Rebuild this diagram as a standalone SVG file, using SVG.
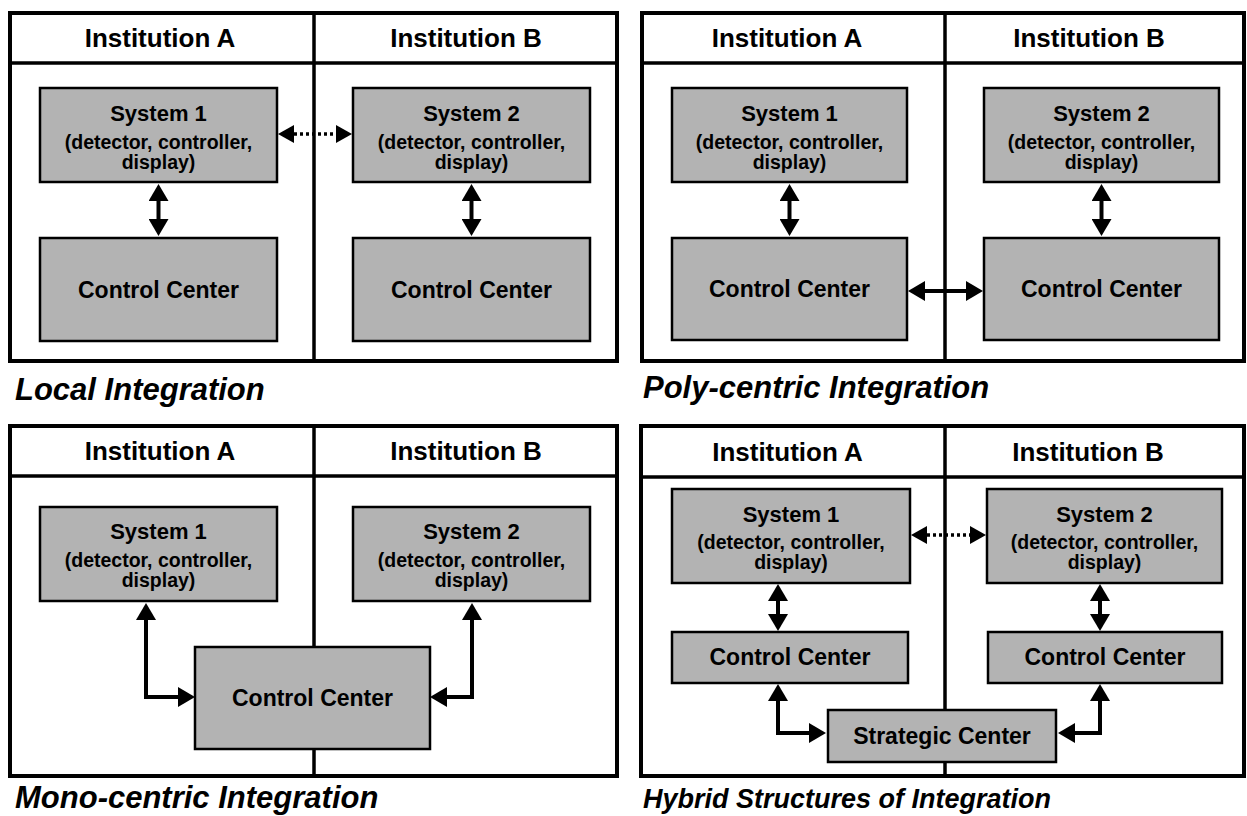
<svg xmlns="http://www.w3.org/2000/svg" width="1247" height="816" viewBox="0 0 1247 816">
<defs>
<marker id="ah" viewBox="0 0 17 20" refX="0" refY="10" markerWidth="17" markerHeight="20" markerUnits="userSpaceOnUse" orient="auto-start-reverse">
<path d="M0,0 L17,10 L0,20 z" fill="#000"/>
</marker>
<marker id="ahs" viewBox="0 0 16 18" refX="0" refY="9" markerWidth="16" markerHeight="18" markerUnits="userSpaceOnUse" orient="auto-start-reverse">
<path d="M0,0 L16,9 L0,18 z" fill="#000"/>
</marker>
</defs>
<style>
.panel{fill:#fff;stroke:#000;stroke-width:4}
.div{stroke:#000;stroke-width:3.5;fill:none}
.box{fill:#b3b3b3;stroke:#000;stroke-width:2.5}
text{font-family:"Liberation Sans",Arial,Helvetica,sans-serif;font-weight:bold;fill:#000;text-anchor:middle}
.hdr{font-size:26px}
.sys{font-size:22px}
.sub{font-size:19.5px}
.cc{font-size:23px}
.title{font-size:31px;font-style:italic;text-anchor:start}
.title2{font-size:27px;font-style:italic;text-anchor:start}
.arr{fill:none;stroke:#000;stroke-width:4;marker-start:url(#ah);marker-end:url(#ah)}
.dot{fill:none;stroke:#000;stroke-width:3.5;stroke-dasharray:3 3;marker-start:url(#ahs);marker-end:url(#ahs)}
</style>

<!-- Panel 1: Local Integration -->
<g id="panel1">
<rect class="panel" x="10" y="13" width="607" height="348"/>
<line class="div" x1="10" y1="63" x2="617" y2="63"/>
<line class="div" x1="314" y1="13" x2="314" y2="361"/>
<text class="hdr" x="160" y="47">Institution A</text>
<text class="hdr" x="466" y="47">Institution B</text>
</g>
<g id="p1-system1">
<rect class="box" x="40" y="88" width="237" height="94"/>
<text class="sys" x="158.5" y="121">System 1</text>
<text class="sub" x="158.5" y="149">(detector, controller,</text>
<text class="sub" x="158.5" y="169">display)</text>
</g>
<g id="p1-system2">
<rect class="box" x="353" y="88" width="237" height="94"/>
<text class="sys" x="471.5" y="121">System 2</text>
<text class="sub" x="471.5" y="149">(detector, controller,</text>
<text class="sub" x="471.5" y="169">display)</text>
</g>
<g id="p1-cc-a">
<rect class="box" x="40" y="238" width="237" height="103"/>
<text class="cc" x="158.5" y="298">Control Center</text>
</g>
<g id="p1-cc-b">
<rect class="box" x="353" y="238" width="237" height="103"/>
<text class="cc" x="471.5" y="298">Control Center</text>
</g>
<text class="title" x="15" y="400">Local Integration</text>

<!-- Panel 2: Poly-centric Integration -->
<g id="panel2">
<rect class="panel" x="642" y="13" width="602" height="348"/>
<line class="div" x1="642" y1="63" x2="1244" y2="63"/>
<line class="div" x1="945" y1="13" x2="945" y2="361"/>
<text class="hdr" x="787" y="47">Institution A</text>
<text class="hdr" x="1089" y="47">Institution B</text>
</g>
<g id="p2-system1">
<rect class="box" x="672" y="88" width="235" height="94"/>
<text class="sys" x="789.5" y="121">System 1</text>
<text class="sub" x="789.5" y="149">(detector, controller,</text>
<text class="sub" x="789.5" y="169">display)</text>
</g>
<g id="p2-system2">
<rect class="box" x="984" y="88" width="235" height="94"/>
<text class="sys" x="1101.5" y="121">System 2</text>
<text class="sub" x="1101.5" y="149">(detector, controller,</text>
<text class="sub" x="1101.5" y="169">display)</text>
</g>
<g id="p2-cc-a">
<rect class="box" x="672" y="238" width="235" height="102"/>
<text class="cc" x="789.5" y="297">Control Center</text>
</g>
<g id="p2-cc-b">
<rect class="box" x="984" y="238" width="235" height="102"/>
<text class="cc" x="1101.5" y="297">Control Center</text>
</g>
<text class="title" x="643" y="398">Poly-centric Integration</text>

<!-- Panel 3: Mono-centric Integration -->
<g id="panel3">
<rect class="panel" x="10" y="426" width="607" height="350"/>
<line class="div" x1="10" y1="476" x2="617" y2="476"/>
<line class="div" x1="314" y1="426" x2="314" y2="776"/>
<text class="hdr" x="160" y="460">Institution A</text>
<text class="hdr" x="466" y="460">Institution B</text>
</g>
<g id="p3-system1">
<rect class="box" x="40" y="507" width="237" height="94"/>
<text class="sys" x="158.5" y="539">System 1</text>
<text class="sub" x="158.5" y="567">(detector, controller,</text>
<text class="sub" x="158.5" y="587">display)</text>
</g>
<g id="p3-system2">
<rect class="box" x="353" y="507" width="237" height="94"/>
<text class="sys" x="471.5" y="539">System 2</text>
<text class="sub" x="471.5" y="567">(detector, controller,</text>
<text class="sub" x="471.5" y="587">display)</text>
</g>
<g id="p3-cc">
<rect class="box" x="195" y="647" width="235" height="102"/>
<text class="cc" x="312.5" y="706">Control Center</text>
</g>
<text class="title" x="15" y="808">Mono-centric Integration</text>

<!-- Panel 4: Hybrid Structures of Integration -->
<g id="panel4">
<rect class="panel" x="641" y="426" width="603" height="350"/>
<line class="div" x1="641" y1="477" x2="1244" y2="477"/>
<line class="div" x1="945" y1="426" x2="945" y2="776"/>
<text class="hdr" x="787.5" y="461">Institution A</text>
<text class="hdr" x="1088" y="461">Institution B</text>
</g>
<g id="p4-system1">
<rect class="box" x="672" y="489" width="238" height="94"/>
<text class="sys" x="791" y="522">System 1</text>
<text class="sub" x="791" y="549">(detector, controller,</text>
<text class="sub" x="791" y="569">display)</text>
</g>
<g id="p4-system2">
<rect class="box" x="987" y="489" width="235" height="94"/>
<text class="sys" x="1104.5" y="522">System 2</text>
<text class="sub" x="1104.5" y="549">(detector, controller,</text>
<text class="sub" x="1104.5" y="569">display)</text>
</g>
<g id="p4-cc-a">
<rect class="box" x="672" y="632" width="236" height="51"/>
<text class="cc" x="790" y="665">Control Center</text>
</g>
<g id="p4-cc-b">
<rect class="box" x="988" y="632" width="234" height="51"/>
<text class="cc" x="1105" y="665">Control Center</text>
</g>
<g id="p4-strategic">
<rect class="box" x="828" y="710" width="228" height="52"/>
<text class="cc" x="942" y="744">Strategic Center</text>
</g>
<text class="title2" x="643" y="808">Hybrid Structures of Integration</text>

<!-- Connectors -->
<g id="connectors">
<path class="arr" d="M158.5,201 V219"/>
<path class="arr" d="M471.5,201 V219"/>
<path class="dot" d="M294,134 H336"/>
<path class="arr" d="M789.5,201 V219"/>
<path class="arr" d="M1101.5,201 V219"/>
<path class="arr" d="M925,291 H966"/>
<path class="arr" d="M146,620 V697 H178"/>
<path class="arr" d="M472,620 V697 H447"/>
<path class="dot" d="M927,535 H970"/>
<path class="arr" d="M778,601 V614"/>
<path class="arr" d="M1100,601 V614"/>
<path class="arr" d="M778,701 V733 H809"/>
<path class="arr" d="M1100,701 V733 H1075"/>
</g>
</svg>
